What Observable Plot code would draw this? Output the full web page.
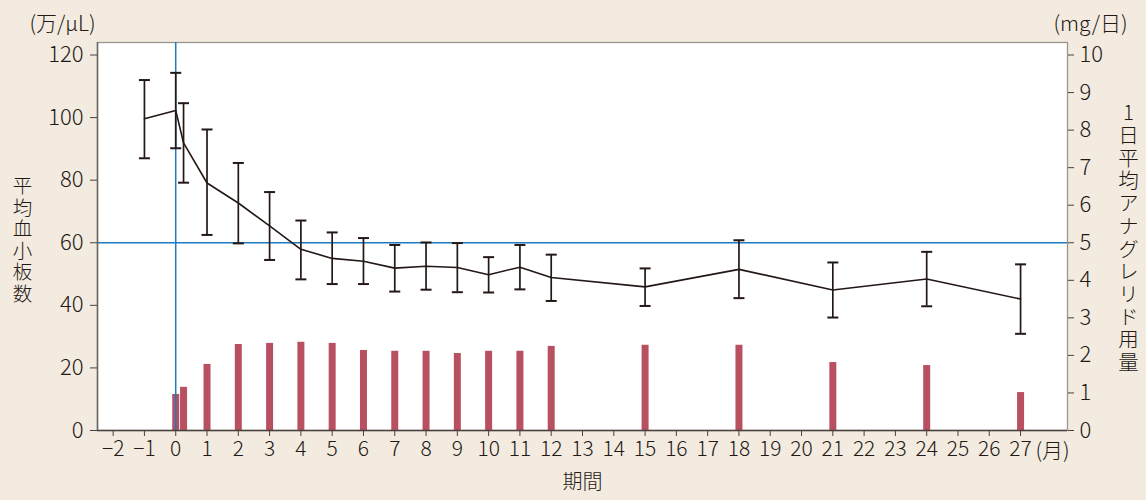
<!DOCTYPE html>
<html>
<head>
<meta charset="utf-8">
<script src="https://cdn.jsdelivr.net/npm/d3@7"></script>
<script src="https://cdn.jsdelivr.net/npm/@observablehq/plot@0.6"></script>
<style>
  html, body { margin: 0; padding: 0; background: #f3ebe0; }
  #chart { width: 1146px; height: 500px; }
  #chart svg text { font-weight: 300; }
</style>
</head>
<body>
<div id="chart"></div>
<script>
// Platelet count (万/μL): month, mean, lower, upper
const months = [-1, 0, 0.25, 1, 2, 3, 4, 5, 6, 7, 8, 9, 10, 11, 12, 15, 18, 21, 24, 27];
const meanPlt = [99.6, 102.3, 91.9, 79.1, 72.7, 65.4, 57.9, 55.0, 54.1, 51.9, 52.5, 52.1, 49.8, 52.2, 48.9, 45.9, 51.5, 44.9, 48.4, 42.0];
const upperPlt = [112.0, 114.3, 104.6, 96.2, 85.5, 76.2, 67.1, 63.3, 61.5, 59.3, 60.1, 59.9, 55.4, 59.3, 56.2, 51.8, 60.8, 53.7, 57.1, 53.1];
const lowerPlt = [87.0, 90.2, 79.2, 62.5, 59.8, 54.5, 48.3, 46.8, 46.8, 44.4, 45.0, 44.2, 44.1, 45.1, 41.4, 39.8, 42.3, 36.1, 39.7, 30.9];

// Daily anagrelide dose (mg/日)
const doseMonths = [0, 0.25, 1, 2, 3, 4, 5, 6, 7, 8, 9, 10, 11, 12, 15, 18, 21, 24, 27];
const doseMg = [0.96, 1.15, 1.76, 2.29, 2.32, 2.35, 2.32, 2.13, 2.11, 2.11, 2.05, 2.11, 2.11, 2.24, 2.27, 2.27, 1.81, 1.73, 1.01];

// Axis ticks
const xTicks = d3.range(-2, 28);
const leftTicks = [0, 20, 40, 60, 80, 100, 120];
const rightTicks = [0, 1, 2, 3, 4, 5, 6, 7, 8, 9, 10];
const refPlt = 60;
const refMonth = 0;

// Titles
const leftTitle = "平均血小板数";
const rightTitle = "1日平均アナグレリド用量";

const pltTable = months.map((m, i) => ({month: m, mean: meanPlt[i], lower: lowerPlt[i], upper: upperPlt[i]}));
const doseTable = doseMonths.map((m, i) => ({month: m, dose: doseMg[i]}));
const mgToLeft = 12; // 10 mg/日 aligns with 120 万/μL

const ink = "#231815";
const capSymbol = {
  draw(ctx) { ctx.moveTo(-5.5, 0); ctx.lineTo(5.5, 0); }
};
const font = "'Noto Sans CJK JP', 'Noto Sans', sans-serif";

const chart = Plot.plot({
  width: 1146,
  height: 500,
  marginLeft: 97,
  marginRight: 79,
  marginTop: 42,
  marginBottom: 70,
  style: {background: "transparent", fontFamily: font, color: ink, overflow: "visible"},
  x: {domain: [-2.5, 28.5]},
  y: {domain: [0, 124]},
  marks: [
    Plot.frame({fill: "white", stroke: "#9a948f", strokeWidth: 1.3}),
    Plot.ruleX(doseTable, {x: "month", y1: 0, y2: d => d.dose * mgToLeft, stroke: "#b95062", strokeWidth: 7}),
    Plot.ruleY([refPlt], {stroke: "#1f7bc1", strokeWidth: 1.5}),
    Plot.ruleX([refMonth], {stroke: "#1f7bc1", strokeWidth: 1.5}),
    Plot.ruleX(pltTable, {x: "month", y1: "lower", y2: "upper", stroke: ink, strokeWidth: 1.7}),
    Plot.dot(pltTable, {x: "month", y: "upper", symbol: capSymbol, fill: "none", stroke: ink, strokeWidth: 2}),
    Plot.dot(pltTable, {x: "month", y: "lower", symbol: capSymbol, fill: "none", stroke: ink, strokeWidth: 2}),
    Plot.line(pltTable, {x: "month", y: "mean", stroke: ink, strokeWidth: 1.6}),
    Plot.ruleY([0], {stroke: "#4a403c", strokeWidth: 1.5}),
    Plot.ruleX([-2.5], {stroke: "#6d6460", strokeWidth: 1.5}),
    Plot.axisX({ticks: xTicks, tickSize: 6, tickPadding: 5, fontSize: 21, label: null, stroke: "#4a403c", fill: ink,
      tickFormat: d => (d < 0 ? "\u2212" + Math.abs(d) : String(d))}),
    Plot.axisY({ticks: leftTicks, anchor: "left", tickSize: 7, tickPadding: 7, fontSize: 22, label: null, stroke: "#4a403c", fill: ink}),
    Plot.axisY({ticks: rightTicks.map(d => d * mgToLeft), anchor: "right", tickSize: 6, tickPadding: 6, fontSize: 22,
      label: null, stroke: "#4a403c", fill: ink, tickFormat: d => String(Math.round(d / mgToLeft))}),
    Plot.text(["(万/μL)"], {frameAnchor: "top-left", dx: -35, dy: -26, fontSize: 21, fill: ink, textAnchor: "middle"}),
    Plot.text(["(mg/日)"], {frameAnchor: "top-right", dx: 23, dy: -26, fontSize: 21, fill: ink, textAnchor: "middle"}),
    Plot.text(["(月)"], {frameAnchor: "bottom-right", dx: -15, dy: 27, fontSize: 21, fill: ink, textAnchor: "middle"}),
    Plot.text(["期間"], {frameAnchor: "bottom", dy: 58, fontSize: 20, fill: ink, textAnchor: "middle"}),
    Plot.text([leftTitle], {frameAnchor: "left", dx: -75, dy: 4, fontSize: 19.5, fill: ink, textAnchor: "middle", lineAnchor: "bottom"}),
    Plot.text([rightTitle], {frameAnchor: "right", dx: 61, dy: 2, fontSize: 20.5, fill: ink, textAnchor: "middle", lineAnchor: "bottom"})
  ]
});

// Stack the two axis titles vertically (upright characters, as in the reference)
chart.querySelectorAll("text").forEach(t => {
  const s = t.textContent;
  if (s === leftTitle || s === rightTitle) {
    t.removeAttribute("dy");
    t.querySelectorAll("tspan").forEach(ts => ts.removeAttribute("dy"));
    t.style.writingMode = "vertical-rl";
    t.style.textOrientation = "upright";
    t.style.letterSpacing = s === leftTitle ? "2px" : "2.2px";
  }
});
document.getElementById("chart").appendChild(chart);
</script>
</body>
</html>
